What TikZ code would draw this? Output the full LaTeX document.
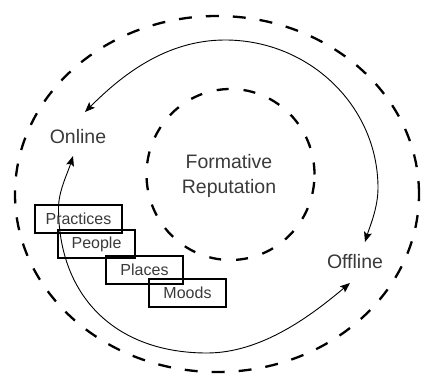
\documentclass[tikz,border=0pt]{standalone}
\usepackage{fontspec}
\setmainfont{Liberation Sans}
\usetikzlibrary{arrows.meta}
\definecolor{txt}{HTML}{3A3A3A}
\tikzset{
  ring/.style={draw=black, line width=2.3pt, dash pattern=on 13pt off 14pt},
  flow/.style={draw=black, line width=0.9pt, {Stealth[length=10pt,width=8pt,inset=2pt]}-{Stealth[length=10pt,width=8pt,inset=2pt]}},
  biglabel/.style={text=txt, font=\fontsize{19.5}{25}\selectfont, align=center, inner sep=0pt},
  tagbox/.style={draw=black, line width=2pt, text=txt, font=\fontsize{16}{18}\selectfont, minimum height=28pt, inner sep=0pt},
}
\begin{document}
\begin{tikzpicture}[x=1pt,y=1pt]
\useasboundingbox (0,0) rectangle (423,376);
% dashed rings
\draw[ring] (217,182) ellipse[x radius=202, y radius=178];
\draw[ring, dash pattern=on 12pt off 15pt] (230.5,201.5) ellipse[x radius=84, y radius=85.5];
% labels
\node[biglabel] (on) at (78,239) {Online};
\node[biglabel] (off) at (355,114) {Offline};
\node[biglabel] (core) at (229,200) {Formative\\Reputation};
% upper arc key points
\coordinate (uOn) at (85,264);
\coordinate (uTop) at (225,336);
\coordinate (uRight) at (378,188);
\coordinate (uOff) at (365,134);
% lower arc key points
\coordinate (lOn) at (73,220);
\coordinate (lLeft) at (58.5,168);
\coordinate (lBot) at (207,23);
\coordinate (lOff) at (350,93);
% solid arrows
\draw[flow] (uOn) .. controls (120.4,299.4) and (165,336) .. (uTop)
  .. controls (309.5,336) and (378,269.7) .. (uRight)
  .. controls (378,168) and (369.4,148.3) .. (uOff);
\draw[flow] (lOn) .. controls (67.7,202.8) and (58.5,185) .. (lLeft)
  .. controls (58.5,80) and (115,23) .. (lBot)
  .. controls (262,23) and (311.7,60.9) .. (lOff);
% boxes
\node[tagbox, minimum width=87pt] (prac) at (78.5,157) {Practices};
\node[tagbox, minimum width=77pt] (peop) at (96.5,132) {People};
\node[tagbox, minimum width=77pt] (plac) at (144.5,106) {Places};
\node[tagbox, minimum width=77pt] (mood) at (187.5,83) {Moods};
\end{tikzpicture}
\end{document}
